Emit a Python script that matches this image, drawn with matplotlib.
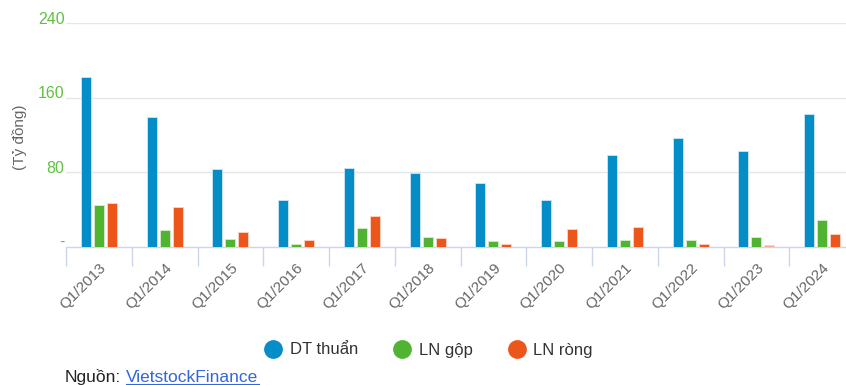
import numpy as np
import matplotlib.pyplot as plt
import matplotlib.transforms as mtrans
from matplotlib.lines import Line2D

plt.rcParams['font.family'] = ['Liberation Sans', 'DejaVu Sans']

# Dữ liệu quý 1 các năm (tỷ đồng)
quy = ['Q1/2013', 'Q1/2014', 'Q1/2015', 'Q1/2016', 'Q1/2017', 'Q1/2018',
       'Q1/2019', 'Q1/2020', 'Q1/2021', 'Q1/2022', 'Q1/2023', 'Q1/2024']
dt_thuan = [182, 139, 83.5, 50.5, 84.5, 78.5, 68.5, 50.5, 98, 116.5, 103, 143]
ln_gop = [45, 17.5, 8, 3, 20, 10.5, 6, 6, 7.5, 7.5, 10.5, 28.5]
ln_rong = [46.5, 42, 16, 7.5, 32.5, 9, 3, 18.5, 21.5, 3.2, 1.5, 13.5]

xanh = '#058dc7'
la = '#50b432'
cam = '#ed561b'
chu = '#666666'

fig = plt.figure(figsize=(8.46, 3.85), dpi=100)
# truc hoi vuot mep phai (bi cat)
ax = fig.add_axes([66/846, 138.5/385, 789/846, 223.2/385])

x = np.arange(len(quy))
w = 0.152
d = 0.198
ax.bar(x - d, dt_thuan, w, color=xanh, edgecolor='#cfe6f3', linewidth=0.6, zorder=3)
ax.bar(x, ln_gop, w, color=la, edgecolor='#d5edcc', linewidth=0.6, zorder=3)
mau_rong = [cam] * len(quy)
mau_rong[10] = '#f6ab8d'
ax.bar(x + d, ln_rong, w, color=mau_rong, edgecolor='#fbd5c6', linewidth=0.6, zorder=3)

ax.set_xlim(-0.5, len(quy) - 0.5)
ax.set_ylim(0, 240)
ax.set_yticks([0, 80, 160, 240])
ax.set_yticklabels(['-', '80', '160', '240'])
ax.tick_params(axis='y', length=0, pad=1, labelsize=11.5, labelcolor='#62c043')
# nhan truc y nam hoi cao hon duong luoi
dich = mtrans.ScaledTranslation(0, 4/72, fig.dpi_scale_trans)
for t in ax.get_yticklabels():
    t.set_transform(t.get_transform() + dich)
ax.grid(axis='y', color='#e6e6e6', linewidth=1, zorder=0)
ax.yaxis.get_gridlines()[0].set_visible(False)

ax.set_xticks(x)
ax.set_xticklabels(quy, rotation=45, ha='right', rotation_mode='anchor',
                   color=chu, fontsize=11)
ax.tick_params(axis='x', length=0, pad=10)
ax.set_xticks(np.arange(len(quy) + 1) - 0.5, minor=True)
ax.tick_params(axis='x', which='minor', length=14, width=1, color='#ccd6eb')

for s in ['top', 'right', 'left']:
    ax.spines[s].set_visible(False)
ax.spines['bottom'].set_color('#ccd6eb')
ax.spines['bottom'].set_linewidth(1)

fig.text(20/846, 1 - 137/385, '(Tỷ đồng)', rotation=90, ha='center', va='center',
         color=chu, fontsize=11)

handles = [Line2D([], [], marker='o', linestyle='', markersize=12.5, color=c)
           for c in [xanh, la, cam]]
fig.legend(handles, ['DT thuẩn', 'LN gộp', 'LN ròng'], loc='center',
           bbox_to_anchor=(428/846, 1 - 350/385), ncol=3, frameon=False,
           fontsize=12, labelcolor='#333333', handletextpad=0.4,
           columnspacing=2.05, handlelength=1.2)

nguon = fig.text(65/846, 1 - 377/385, 'Nguồn:', ha='left', va='center',
                 color='#222222', fontsize=12.5)
fig.canvas.draw()
bn = nguon.get_window_extent()
link = fig.text((bn.x1 + 5) / 846, 1 - 377/385, 'VietstockFinance', ha='left', va='center',
                color='#3366dd', fontsize=12.5)
fig.canvas.draw()
bb = link.get_window_extent()
fig.add_artist(Line2D([bb.x0 / 846, bb.x1 / 846], [(bb.y0 + 0.5) / 385] * 2,
                      color='#3366dd', linewidth=0.8))

fig.savefig('out.png', dpi=100, facecolor='white')
